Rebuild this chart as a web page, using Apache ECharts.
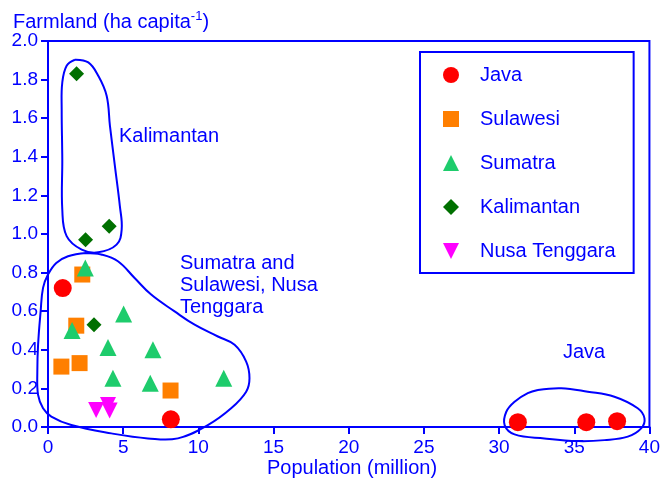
<!DOCTYPE html>
<html>
<head>
<meta charset="utf-8">
<script src="https://cdn.jsdelivr.net/npm/echarts@6/dist/echarts.min.js"></script>
<style>
html,body{margin:0;padding:0;background:#fff;}
#chart{width:663px;height:484px;}
</style>
</head>
<body>
<div id="chart"></div>
<script>
// ---- data ----
const seriesNames = ['Java', 'Sulawesi', 'Sumatra', 'Kalimantan', 'Nusa Tenggara'];
const javaX = [0.98, 8.17, 31.25, 35.8, 37.85];
const javaY = [0.72, 0.04, 0.025, 0.025, 0.03];
const sulawesiX = [2.28, 1.88, 0.89, 2.1, 8.15];
const sulawesiY = [0.79, 0.525, 0.313, 0.331, 0.189];
const sumatraX = [2.48, 1.6, 5.03, 3.99, 6.98, 4.32, 6.8, 11.69];
const sumatraY = [0.824, 0.50, 0.585, 0.412, 0.40, 0.253, 0.227, 0.253];
const kalimantanX = [1.9, 4.07, 2.5, 3.06];
const kalimantanY = [1.83, 1.04, 0.97, 0.53];
const nusaX = [3.2, 3.99, 4.1];
const nusaY = [0.088, 0.114, 0.085];

const xTicks = [0, 5, 10, 15, 20, 25, 30, 35, 40];
const yTicks = [0.0, 0.2, 0.4, 0.6, 0.8, 1.0, 1.2, 1.4, 1.6, 1.8, 2.0];

// hand-drawn enclosure outlines (data units)
const loopSumatraX = [2.54, 3.54, 4.65, 5.76, 6.86, 8.42, 9.75, 11.30, 12.41, 13.18, 13.40, 13.18, 12.18, 10.63, 8.64, 6.64, 4.21, 1.55, 0.22, -0.33, -0.66, -0.71, -0.66, -0.49, -0.33, 0.0, 0.55, 1.33, 2.54];
const loopSumatraY = [0.902, 0.894, 0.859, 0.772, 0.686, 0.599, 0.530, 0.469, 0.426, 0.339, 0.253, 0.183, 0.097, 0.010, -0.059, -0.059, -0.033, 0.010, 0.054, 0.097, 0.166, 0.287, 0.426, 0.599, 0.721, 0.790, 0.850, 0.885, 0.902];
const loopKalX = [1.79, 2.68, 3.34, 3.90, 4.12, 4.45, 4.78, 4.90, 4.56, 3.34, 2.24, 1.24, 0.95, 0.95, 0.91, 0.95, 1.24, 1.79];
const loopKalY = [1.903, 1.889, 1.820, 1.716, 1.560, 1.352, 1.144, 1.023, 0.945, 0.905, 0.919, 0.989, 1.127, 1.387, 1.647, 1.785, 1.872, 1.903];
const loopJavaX = [32.58, 34.13, 35.90, 37.67, 39.22, 39.67, 39.45, 38.56, 37.01, 35.24, 33.02, 31.03, 30.37, 30.48, 31.03, 31.91, 32.58];
const loopJavaY = [0.192, 0.201, 0.183, 0.157, 0.097, 0.045, -0.007, -0.050, -0.068, -0.073, -0.059, -0.038, 0.010, 0.079, 0.131, 0.175, 0.192];

const yAxisTitle = 'Farmland (ha capita';
const yAxisSup = '-1';
const xAxisTitle = 'Population (million)';
const noteKal = 'Kalimantan';
const noteSum = 'Sumatra and\nSulawesi, Nusa\nTenggara';
const noteJava = 'Java';

// ---- build ----
const BLUE = '#0000ff';
const FONT = 'Liberation Sans, Arial, sans-serif';
const zip = (xs, ys) => xs.map((x, i) => [x, ys[i]]);
const downTri = 'path://M0,0 L10,0 L5,10 Z';

const scatterDefs = [
  {name: seriesNames[0], data: zip(javaX, javaY), symbol: 'circle', size: 18, color: '#ff0000'},
  {name: seriesNames[1], data: zip(sulawesiX, sulawesiY), symbol: 'rect', size: 16, color: '#ff7f00'},
  {name: seriesNames[2], data: zip(sumatraX, sumatraY), symbol: 'triangle', size: 17, color: '#1ecc6c'},
  {name: seriesNames[3], data: zip(kalimantanX, kalimantanY), symbol: 'diamond', size: 15, color: '#007000'},
  {name: seriesNames[4], data: zip(nusaX, nusaY), symbol: downTri, size: 16, color: '#ff00ff'}
];

const loops = [zip(loopSumatraX, loopSumatraY), zip(loopKalX, loopKalY), zip(loopJavaX, loopJavaY)];

const series = [{
  type: 'custom', name: 'outlines', clip: false, z: 1, silent: true,
  data: loops.map(l => l[0]),
  renderItem: function (params, api) {
    const pts = loops[params.dataIndex].map(p => api.coord(p));
    return {
      type: 'polyline',
      shape: {points: pts, smooth: 0.4},
      style: {stroke: BLUE, lineWidth: 2, fill: null}
    };
  }
}];
scatterDefs.forEach(s => {
  series.push({
    type: 'scatter', name: s.name, data: s.data, symbol: s.symbol, symbolSize: s.size,
    itemStyle: {color: s.color, opacity: 1}, z: 3
  });
});

const chart = echarts.init(document.getElementById('chart'), null, {renderer: 'canvas'});
chart.setOption({
  animation: false,
  backgroundColor: '#ffffff',
  grid: {left: 48, right: 13, top: 41, bottom: 57, show: true, borderColor: BLUE, borderWidth: 2, backgroundColor: 'transparent'},
  xAxis: {
    type: 'value', min: xTicks[0], max: xTicks[xTicks.length - 1], interval: xTicks[1] - xTicks[0],
    axisLine: {show: true, lineStyle: {color: BLUE, width: 2}},
    axisTick: {show: true, length: 7, lineStyle: {color: BLUE, width: 2}},
    axisLabel: {color: BLUE, fontSize: 19, fontFamily: FONT, margin: 11},
    splitLine: {show: false}
  },
  yAxis: {
    type: 'value', min: yTicks[0], max: yTicks[yTicks.length - 1], interval: 0.2,
    axisLine: {show: true, lineStyle: {color: BLUE, width: 2}},
    axisTick: {show: true, length: 7, lineStyle: {color: BLUE, width: 2}},
    axisLabel: {color: BLUE, fontSize: 19, fontFamily: FONT, margin: 10, formatter: v => Number(v).toFixed(1)},
    splitLine: {show: false}
  },
  legend: {
    data: seriesNames.map((n, i) => ({name: n, icon: scatterDefs[i].symbol, itemStyle: {opacity: 1}})),
    orient: 'vertical', left: 420, top: 52,
    padding: [13, 18, 12, 23], itemGap: 24, itemWidth: 16, itemHeight: 16,
    borderColor: BLUE, borderWidth: 2,
    textStyle: {color: BLUE, fontSize: 20, fontFamily: FONT, lineHeight: 20, padding: [0, 0, 0, 16]},
    selectedMode: false
  },
  graphic: [
    {type: 'text', x: 13, y: 8, style: {
      text: '{a|' + yAxisTitle + '}{b|' + yAxisSup + '}{a|)}',
      rich: {a: {fontSize: 20, fontFamily: FONT, fill: BLUE, lineHeight: 24, verticalAlign: 'bottom'},
             b: {fontSize: 13, fontFamily: FONT, fill: BLUE, verticalAlign: 'top', padding: [2, 0, 0, 0]}}
    }},
    {type: 'text', x: 352, y: 468, style: {text: xAxisTitle, fill: BLUE, font: '20px ' + FONT, textAlign: 'center', textVerticalAlign: 'middle'}},
    {type: 'text', x: 119, y: 136, style: {text: noteKal, fill: BLUE, font: '20px ' + FONT, textAlign: 'left', textVerticalAlign: 'middle'}},
    {type: 'text', x: 180, y: 252, style: {text: noteSum, fill: BLUE, font: '20px ' + FONT, lineHeight: 22, textAlign: 'left', textVerticalAlign: 'top'}},
    {type: 'text', x: 563, y: 352, style: {text: noteJava, fill: BLUE, font: '20px ' + FONT, textAlign: 'left', textVerticalAlign: 'middle'}}
  ],
  series: series
});
</script>
</body>
</html>
